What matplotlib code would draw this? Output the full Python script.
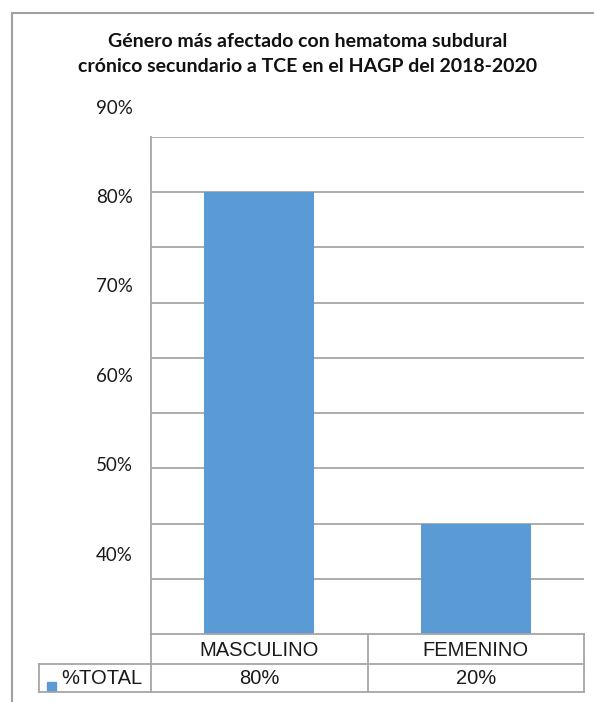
import matplotlib
matplotlib.use("Agg")
import matplotlib.pyplot as plt
import matplotlib.transforms as mtransforms
from matplotlib.lines import Line2D
from matplotlib.patches import Rectangle

# data
categories = ["MASCULINO", "FEMENINO"]
percent_total = [80, 20]
series_name = "%TOTAL"
tick_labels = [90, 80, 70, 60, 50, 40]

title = ("Género más afectado con hematoma subdural\n"
         "crónico secundario a TCE en el HAGP del 2018-2020")

bar_color = "#5b9bd5"
line_color = "#a6a6a6"
text_color = "#1a1a1a"

fig = plt.figure(figsize=(5.94, 7.02), dpi=100)
W, H = 594, 702


def fx(px):
    return px / W


def fy(py):
    return 1 - py / H


# plot area in pixels
left, right, top, bottom = 151, 584, 137, 634
ax = fig.add_axes([fx(left), fy(bottom), (right - left) / W, (bottom - top) / H])

x = list(range(len(categories)))
ax.bar(x, percent_total, width=0.51, color=bar_color, zorder=3)
ax.set_xlim(-0.5, len(categories) - 0.5)
ax.set_ylim(0, 90)

# horizontal gridlines every 10%
for v in range(10, 100, 10):
    ax.axhline(v, color=line_color, lw=1.3, zorder=1)

ax.set_xticks([])
ax.set_yticks([])
for s in ["top", "right", "bottom"]:
    ax.spines[s].set_visible(False)
ax.spines["left"].set_color(line_color)
ax.spines["left"].set_linewidth(1.3)

# value labels on the left (spaced as in the exported chart)
trans = mtransforms.blended_transform_factory(fig.transFigure, ax.transData)
label_step = 16.2
for i, t in enumerate(tick_labels):
    ax.text(fx(133), 95.25 - i * label_step, f"{t}%", transform=trans,
            ha="right", va="center", fontsize=13.5, family="Lato",
            color=text_color, clip_on=False)

# data table under the plot
row1, row2, row3 = 634, 664, 692
segs = [
    ((151, 584), (row1, row1)),
    ((39, 584), (row2, row2)),
    ((39, 584), (row3, row3)),
    ((39, 39), (row2, row3)),
    ((151, 151), (row1, row3)),
    ((368, 368), (row1, row3)),
    ((584, 584), (row1, row3)),
]
for xs, ys in segs:
    fig.add_artist(Line2D([fx(xs[0]), fx(xs[1])], [fy(ys[0]), fy(ys[1])],
                          color=line_color, lw=1.3, transform=fig.transFigure))

xt = mtransforms.blended_transform_factory(ax.transData, fig.transFigure)
for i, (c, v) in enumerate(zip(categories, percent_total)):
    ax.text(i, fy((row1 + row2) / 2 + 1), c, transform=xt, ha="center",
            va="center", fontsize=14.5, family="Liberation Sans",
            color=text_color, clip_on=False)
    ax.text(i, fy((row2 + row3) / 2 + 1), f"{v}%", transform=xt, ha="center",
            va="center", fontsize=14.5, family="Liberation Sans",
            color=text_color, clip_on=False)

# series name with legend key
fig.text(fx(61), fy((row2 + row3) / 2), series_name, ha="left", va="center",
         fontsize=14.5, family="Liberation Sans", color=text_color)
fig.add_artist(Rectangle((fx(47), fy(691)), 9 / W, 9 / H, color=bar_color,
                         transform=fig.transFigure))

# title
fig.text(fx(308), fy(54), title, ha="center", va="center", fontsize=14,
         family="Lato", weight="bold", linespacing=1.6, color="#111111")

# outer chart frame (top and left edges visible)
fig.add_artist(Line2D([fx(12), 1], [fy(13), fy(13)], color="#a0a0a0", lw=1.5,
                      transform=fig.transFigure))
fig.add_artist(Line2D([fx(12), fx(12)], [fy(13), 0], color="#a0a0a0", lw=1.5,
                      transform=fig.transFigure))

fig.savefig("out.png", dpi=100, facecolor="white")
